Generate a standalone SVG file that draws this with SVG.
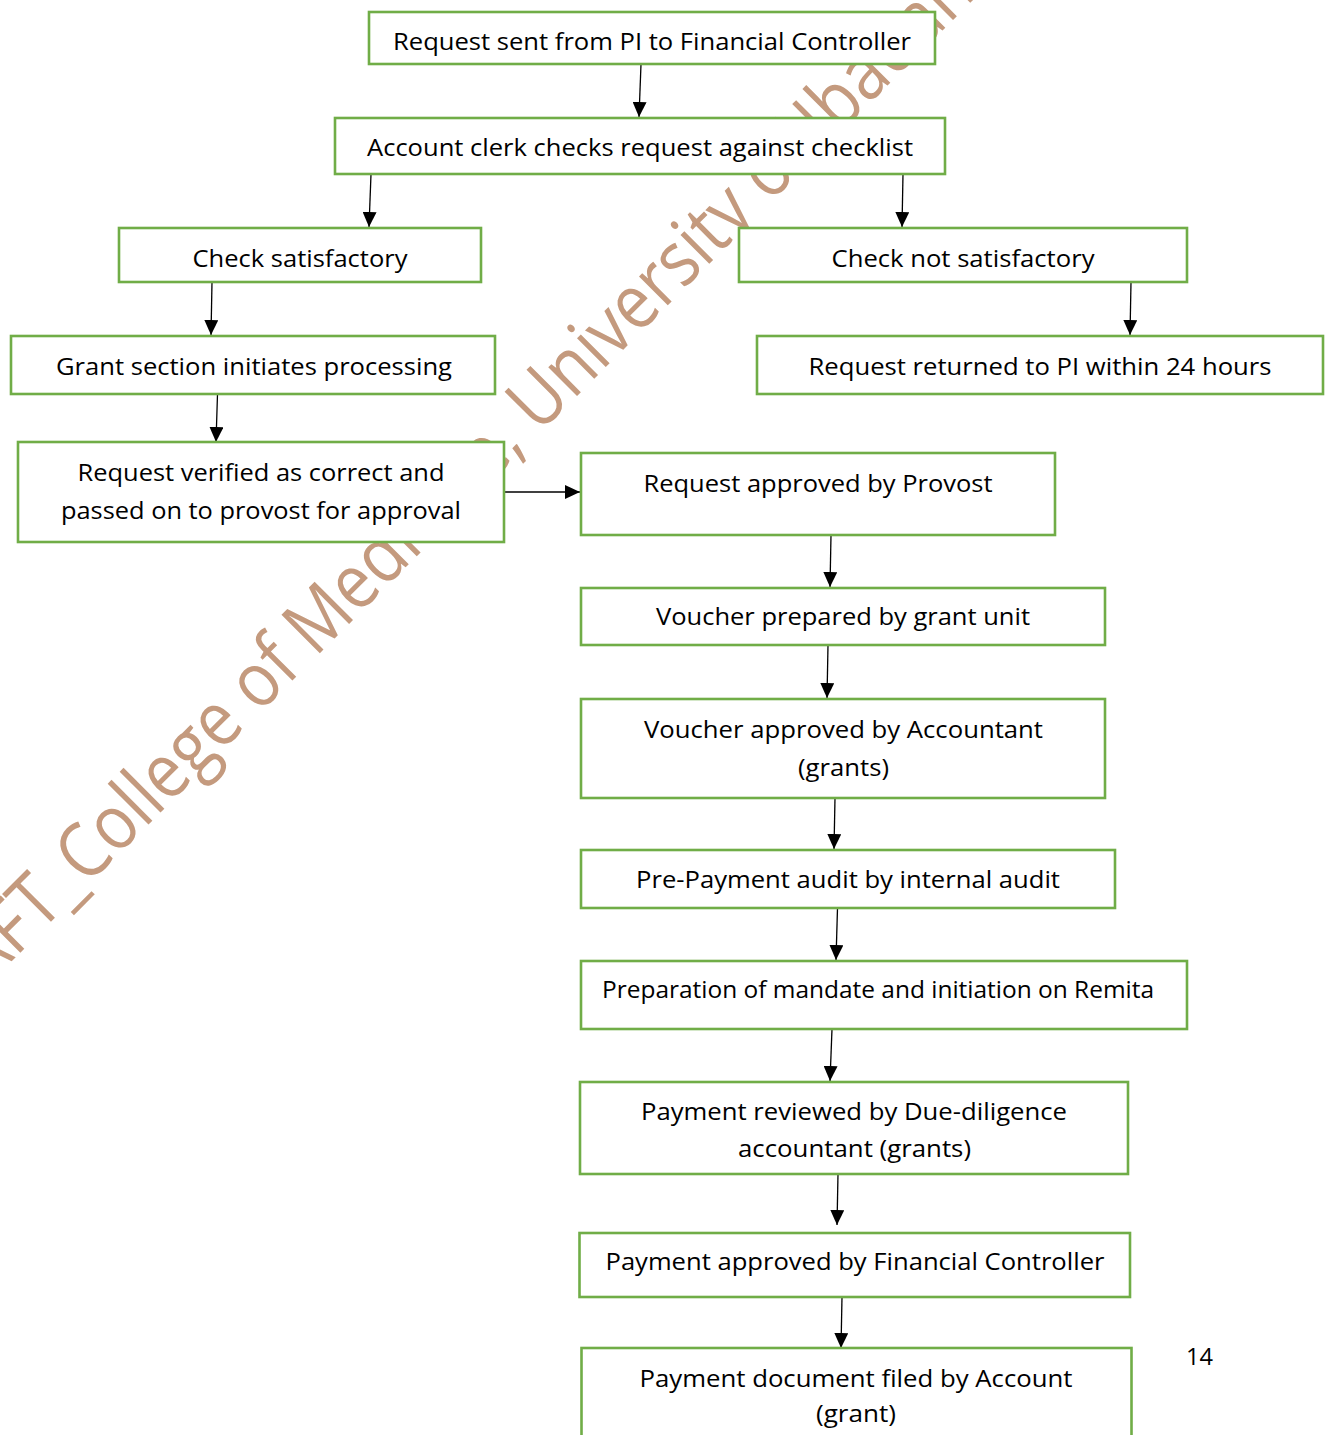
<svg xmlns="http://www.w3.org/2000/svg" width="1325" height="1435" viewBox="0 0 1325 1435">
<style>
.box{fill:#fff;stroke:#70AD47;stroke-width:2.6}
.t{font-family:"Open Sans","Liberation Sans",sans-serif;font-size:23px;fill:#000;text-anchor:middle}
.c{stroke:#000;stroke-width:1.3;fill:none}
.wm{font-family:"Open Sans","Liberation Sans",sans-serif;font-size:76px;fill:#C49A7E}
</style>
<defs>
<marker id="ah" markerUnits="userSpaceOnUse" markerWidth="16" markerHeight="14" refX="15" refY="7" orient="auto">
<path d="M0,0 L15,7 L0,14 z" fill="#000"/>
</marker>
</defs>
<rect width="1325" height="1435" fill="#fff"/>
<g id="watermark" transform="rotate(-45)">
<text class="wm" x="-797" y="688" textLength="1492" lengthAdjust="spacingAndGlyphs">DRAFT_College of Medicine, University of Ibadan</text>
</g>
<g id="connectors">
<path class="c" marker-end="url(#ah)" d="M641,64 L639,117"/>
<path class="c" marker-end="url(#ah)" d="M371,174 L369,227"/>
<path class="c" marker-end="url(#ah)" d="M903,174 L902,227"/>
<path class="c" marker-end="url(#ah)" d="M212,282 L211,335"/>
<path class="c" marker-end="url(#ah)" d="M1131,282 L1130,335"/>
<path class="c" marker-end="url(#ah)" d="M217.5,394 L216,442"/>
<path class="c" marker-end="url(#ah)" d="M504,492 L580,492"/>
<path class="c" marker-end="url(#ah)" d="M831,535 L830,587"/>
<path class="c" marker-end="url(#ah)" d="M828,645 L827,698"/>
<path class="c" marker-end="url(#ah)" d="M835,798 L834,849"/>
<path class="c" marker-end="url(#ah)" d="M837.5,908 L836,960"/>
<path class="c" marker-end="url(#ah)" d="M832,1029 L830,1081"/>
<path class="c" marker-end="url(#ah)" d="M838,1174 L837,1225"/>
<path class="c" marker-end="url(#ah)" d="M842,1297 L841,1348"/>
</g>
<g id="n1"><rect class="box" x="369" y="12" width="566" height="52"/><text class="t" x="652" y="50" textLength="518" lengthAdjust="spacingAndGlyphs">Request sent from PI to Financial Controller</text></g>
<g id="n2"><rect class="box" x="335" y="118" width="610" height="56"/><text class="t" x="640" y="156" textLength="546" lengthAdjust="spacingAndGlyphs">Account clerk checks request against checklist</text></g>
<g id="n3"><rect class="box" x="119" y="228" width="362" height="54"/><text class="t" x="300" y="267" textLength="215" lengthAdjust="spacingAndGlyphs">Check satisfactory</text></g>
<g id="n4"><rect class="box" x="739" y="228" width="448" height="54"/><text class="t" x="963" y="267" textLength="263" lengthAdjust="spacingAndGlyphs">Check not satisfactory</text></g>
<g id="n5"><rect class="box" x="11" y="336" width="484" height="58"/><text class="t" x="254" y="375" textLength="396" lengthAdjust="spacingAndGlyphs">Grant section initiates processing</text></g>
<g id="n6"><rect class="box" x="757" y="336" width="566" height="58"/><text class="t" x="1040" y="375" textLength="463" lengthAdjust="spacingAndGlyphs">Request returned to PI within 24 hours</text></g>
<g id="n7"><rect class="box" x="18" y="442" width="486" height="100"/><text class="t" x="261" y="481" textLength="367" lengthAdjust="spacingAndGlyphs">Request verified as correct and</text><text class="t" x="261" y="519" textLength="400" lengthAdjust="spacingAndGlyphs">passed on to provost for approval</text></g>
<g id="n8"><rect class="box" x="581" y="453" width="474" height="82"/><text class="t" x="818" y="492" textLength="349" lengthAdjust="spacingAndGlyphs">Request approved by Provost</text></g>
<g id="n9"><rect class="box" x="581" y="588" width="524" height="57"/><text class="t" x="843" y="625" textLength="374" lengthAdjust="spacingAndGlyphs">Voucher prepared by grant unit</text></g>
<g id="n10"><rect class="box" x="581" y="699" width="524" height="99"/><text class="t" x="843.5" y="738" textLength="399" lengthAdjust="spacingAndGlyphs">Voucher approved by Accountant</text><text class="t" x="843.5" y="776" textLength="91" lengthAdjust="spacingAndGlyphs">(grants)</text></g>
<g id="n11"><rect class="box" x="581" y="850" width="534" height="58"/><text class="t" x="848" y="888" textLength="424" lengthAdjust="spacingAndGlyphs">Pre-Payment audit by internal audit</text></g>
<g id="n12"><rect class="box" x="581" y="961" width="606" height="68"/><text class="t" x="878" y="998" textLength="552" lengthAdjust="spacingAndGlyphs">Preparation of mandate and initiation on Remita</text></g>
<g id="n13"><rect class="box" x="580" y="1082" width="548" height="92"/><text class="t" x="854" y="1120" textLength="426" lengthAdjust="spacingAndGlyphs">Payment reviewed by Due-diligence</text><text class="t" x="854.5" y="1157" textLength="233" lengthAdjust="spacingAndGlyphs">accountant (grants)</text></g>
<g id="n14"><rect class="box" x="579.5" y="1233" width="550.5" height="64"/><text class="t" x="855" y="1270" textLength="499" lengthAdjust="spacingAndGlyphs">Payment approved by Financial Controller</text></g>
<g id="n15"><rect class="box" x="581.5" y="1348" width="550" height="100"/><text class="t" x="856" y="1387" textLength="433" lengthAdjust="spacingAndGlyphs">Payment document filed by Account</text><text class="t" x="856" y="1422" textLength="80" lengthAdjust="spacingAndGlyphs">(grant)</text></g>
<text id="page" x="1199.5" y="1365" style="font-family:'Open Sans','Liberation Sans',sans-serif;font-size:24px;text-anchor:middle" textLength="27" lengthAdjust="spacingAndGlyphs">14</text>
</svg>
